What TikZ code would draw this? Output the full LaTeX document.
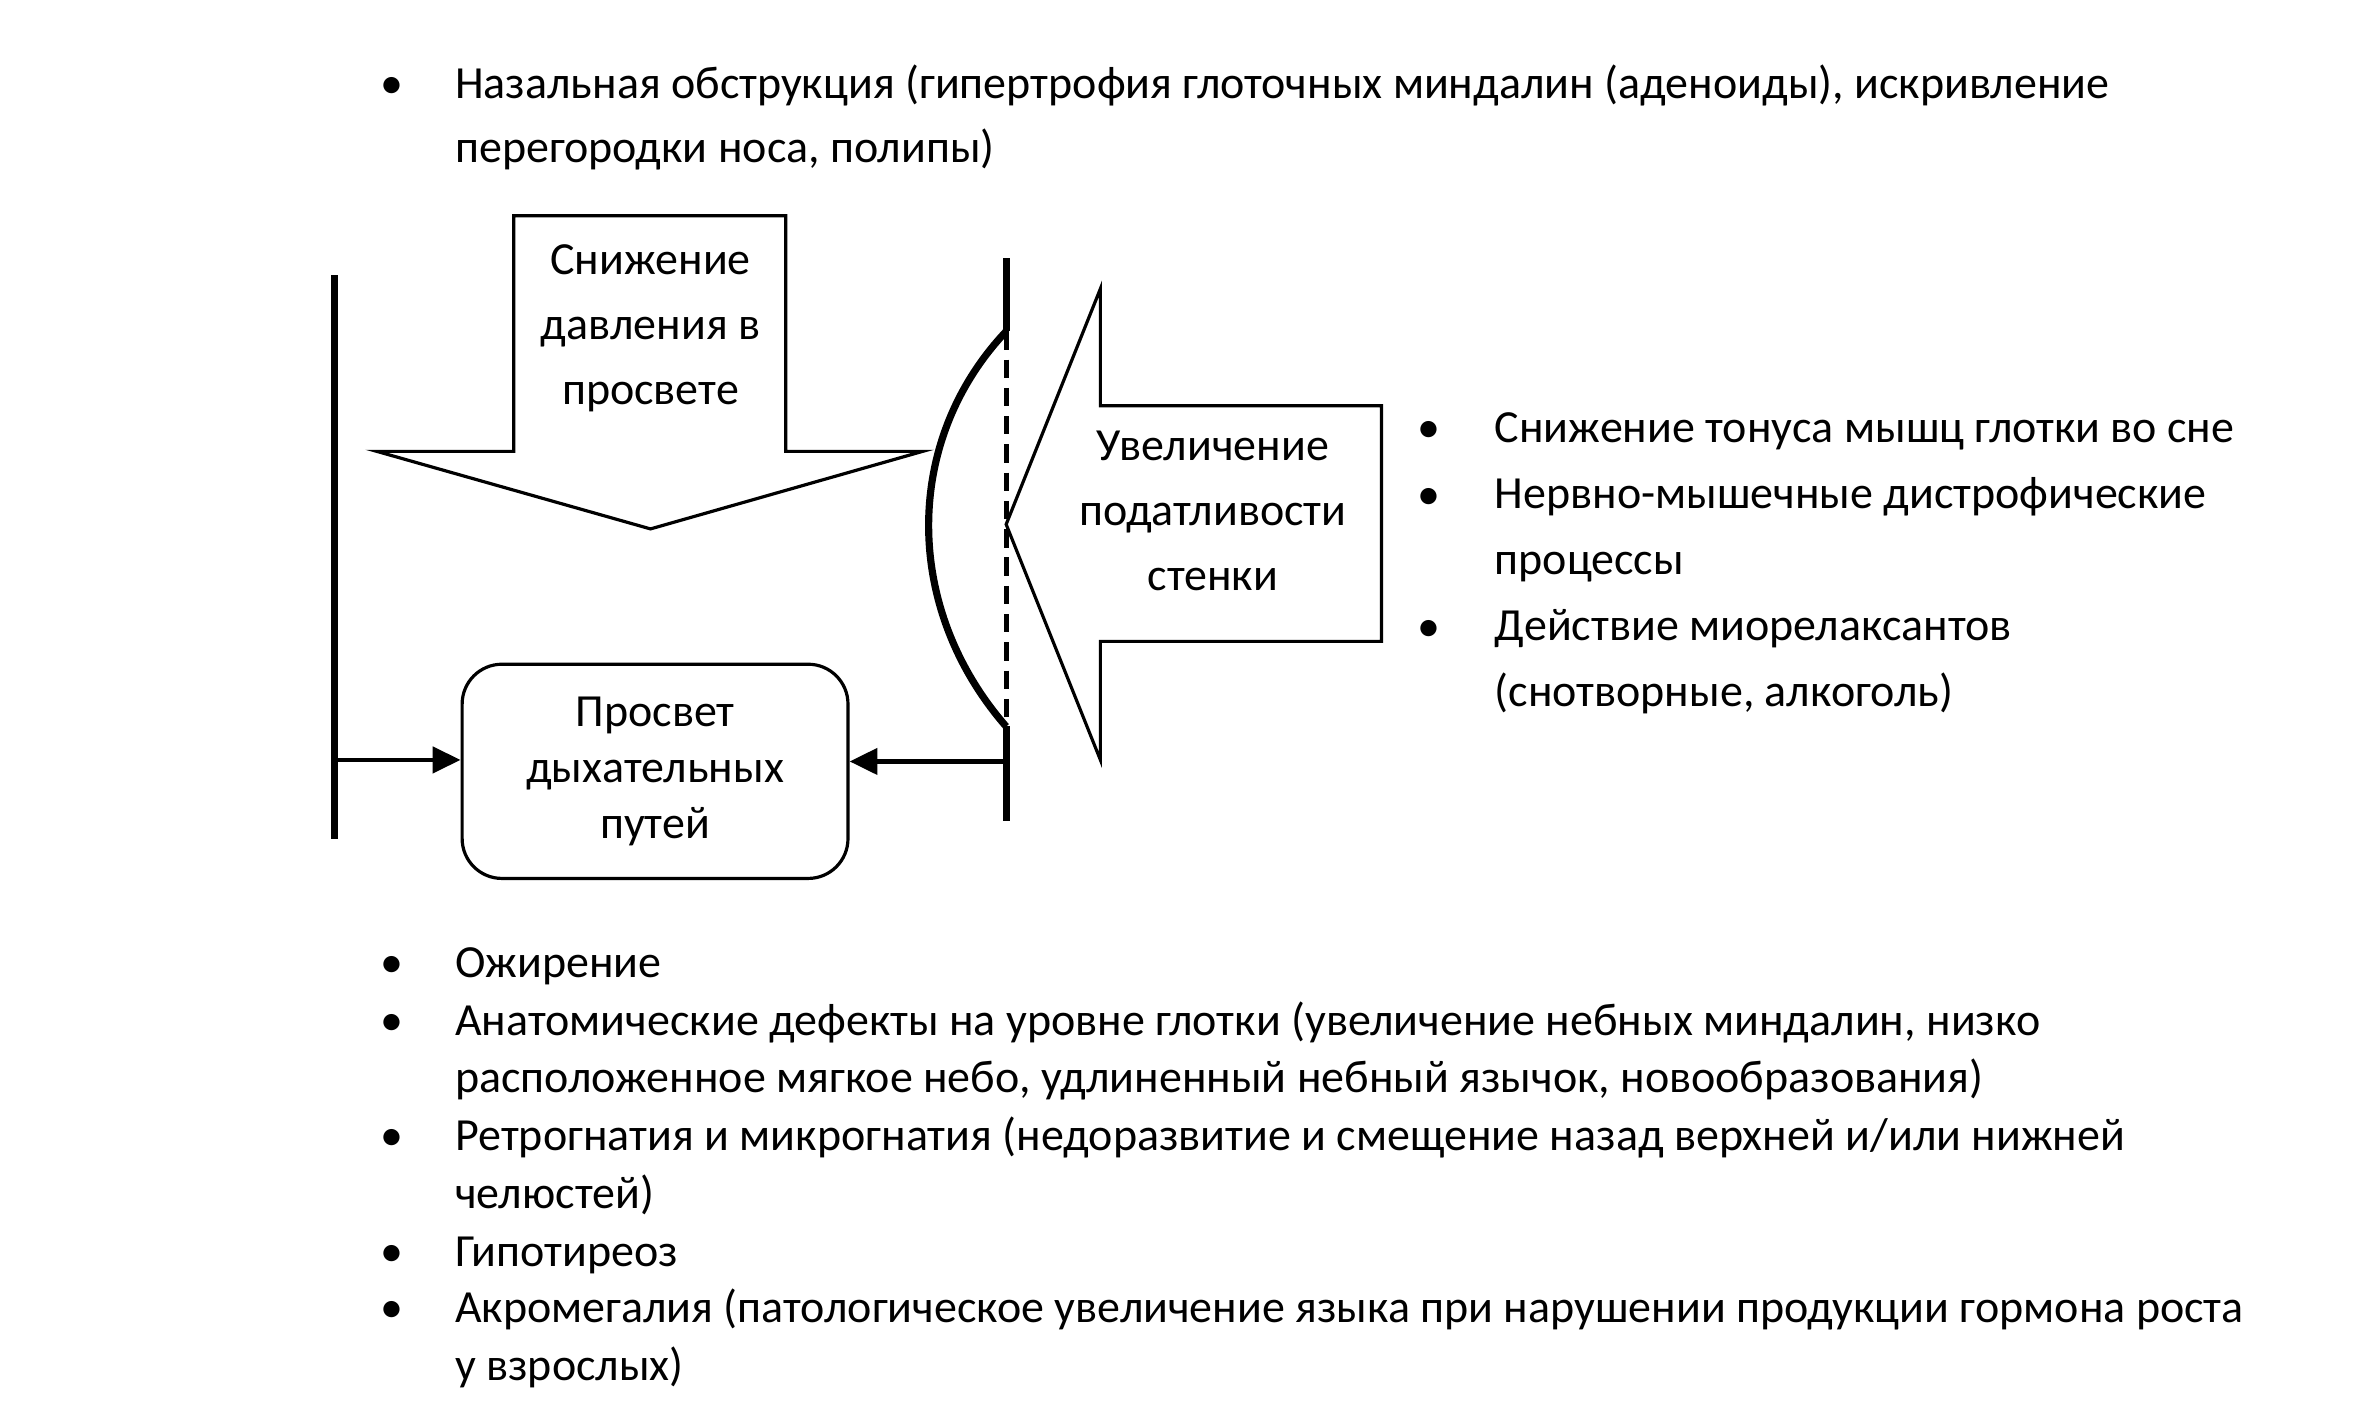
\documentclass[tikz,border=0pt]{standalone}
\usepackage{fontspec}
\setmainfont{Carlito}
\usetikzlibrary{arrows.meta,positioning}

\begin{document}
\begin{tikzpicture}[x=0.3817pt,y=-0.3817pt,font=\fontsize{11.55}{14.5}\selectfont,
  outline/.style={draw,line width=0.8pt,line join=miter},
  wall/.style={line width=1.8pt},
  conn/.style={line width=1.2pt,-{Triangle[length=7pt,width=6.5pt]}},
  lumenbox/.style={draw,line width=0.8pt,rounded corners=10pt,align=center,
    minimum width=96.9pt,minimum height=53.8pt,font=\fontsize{11.55}{14.1}\selectfont},
  label/.style={align=center,font=\fontsize{11.55}{16.3}\selectfont},
  dot/.style={anchor=base},
  item/.style={anchor=base west,align=left,inner sep=0pt}]
  \useasboundingbox (0,0) rectangle (1560,925);

  % top list (anchors sit on the last line)
  \node[dot] (b0) at (258,65) {•};
  \node[item,font=\fontsize{11.55}{16}\selectfont] (t0) at (299,107)
    {Назальная обструкция (гипертрофия глоточных миндалин (аденоиды), искривление\\
     перегородки носа, полипы)};

  % pressure arrow
  \draw[outline] (338,142) -- (517,142) -- (517,297) -- (607,297) -- (428,348)
    -- (248,297) -- (338,297) -- cycle;
  \node[label] (drop) at (428,216) {Снижение\\давления в\\просвете};

  % walls
  \coordinate (wlt) at (220,181);
  \coordinate (wlb) at (220,552);
  \draw[wall] (wlt) -- (wlb);
  \coordinate (wrt) at (662,170);
  \coordinate (wr1) at (662,218);
  \coordinate (wr2) at (662,478);
  \coordinate (wrb) at (662,540);
  \draw[wall] (wrt) -- (wr1);
  \draw[wall] (wr2) -- (wrb);
  \draw[line width=1.2pt,dash pattern=on 4.6pt off 2.5pt] (wr1) -- (wr2);
  \draw[wall] (wr1) .. controls (594,290) and (594,400) .. (wr2);

  % compliance arrow
  \draw[outline] (909,267) -- (724,267) -- (724,190) -- (662,345) -- (724,500)
    -- (724,422) -- (909,422) -- cycle;
  \node[label] (comp) at (798,336) {Увеличение\\податливости\\стенки};

  % lumen
  \node[lumenbox] (lumen) at (431,507.5) {Просвет\\дыхательных\\путей};
  \coordinate (wl) at (220,500);
  \coordinate (wr) at (662,501);
  \draw[conn] (wl) -- (wl -| lumen.west);
  \draw[conn] (wr) -- (wr -| lumen.east);

  % right list
  \foreach \y in {291,335,422} {
    \node[dot] at (940,\y) {•};
  }
  \node[item,font=\fontsize{11.55}{16.6}\selectfont] (r0) at (983,465)
    {Снижение тонуса мышц глотки во сне\\
     Нервно-мышечные дистрофические\\
     процессы\\
     Действие миорелаксантов\\
     (снотворные, алкоголь)};

  % bottom list
  \foreach \y in {643,681,757,833,870} {
    \node[dot] at (258,\y) {•};
  }
  \node[item] (d1) at (299,643) {Ожирение};
  \node[item] (d2) at (299,719)
    {Анатомические дефекты на уровне глотки (увеличение небных миндалин, низко\\
     расположенное мягкое небо, удлиненный небный язычок, новообразования)};
  \node[item] (d3) at (299,795)
    {Ретрогнатия и микрогнатия (недоразвитие и смещение назад верхней и/или нижней\\
     челюстей)};
  \node[item] (d4) at (299,833) {Гипотиреоз};
  \node[item] (d5) at (299,908)
    {Акромегалия (патологическое увеличение языка при нарушении продукции гормона роста\\
     у взрослых)};
\end{tikzpicture}
\end{document}
